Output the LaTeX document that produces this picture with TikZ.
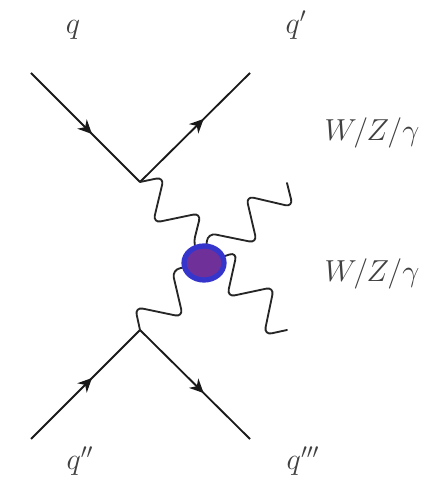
\documentclass[tikz,border=0pt]{standalone}
\usepackage{amsmath,amssymb}
\usetikzlibrary{arrows.meta,decorations.markings,shapes.geometric}
\definecolor{blobline}{HTML}{3535CC}
\definecolor{blobfill}{HTML}{70309A}

\begin{document}
\begin{tikzpicture}[x=0.02cm,y=0.02cm]
\tikzset{quark/.style={line width=1.05pt,draw=black!90,postaction={decorate},
    decoration={markings,mark=at position #1 with {\arrow{Stealth[length=8pt,width=7.5pt,inset=2.5pt]}}}},
  boson/.style={line width=1.05pt,draw=black!85,line cap=round,rounded corners=4.5pt},
  label/.style={font=\LARGE,text=black!75,inner sep=0pt},
  blobstyle/.style={ellipse,draw=blobline,line width=3pt,fill=blobfill,
    minimum width=0.8cm,minimum height=0.68cm,inner sep=0pt}}
\useasboundingbox (0,0) rectangle (426,479);
% vertices and free ends
\coordinate (vtop) at (140,297);
\coordinate (vbot) at (140,149);
\coordinate (core) at (204,216);
\coordinate (qa) at (31,406);
\coordinate (qb) at (250,406);
\coordinate (qc) at (31,40);
\coordinate (qd) at (250,40);
\coordinate (vup) at (287,296);
\coordinate (vdown) at (287,149);
% quark lines
\draw[quark=0.56] (qa) -- (vtop);
\draw[quark=0.58] (vtop) -- (qb);
\draw[quark=0.56] (qc) -- (vbot);
\draw[quark=0.58] (vbot) -- (qd);
% bosons
\draw[boson] (vtop) -- (164,302) -- (153,256) -- (201,266) -- (193,234) -- (core);
\draw[boson] (vbot) -- (135,172) -- (183,162) -- (172,209) -- (core);
\draw[boson] (core) -- (208,246) -- (257,236) -- (246,283) -- (293,272) -- (vup);
\draw[boson] (core) -- (237,227) -- (227,182) -- (274,192) -- (264,144) -- (vdown);
\node[blobstyle] (blob) at (core) {};
% labels
\node[label] (lq) at (73,449) {$q$};
\node[label] (lqp) at (296,454) {$q'$};
\node[label] (lqpp) at (80,18) {$q''$};
\node[label] (lqppp) at (303,18) {$q'''$};
\node[label] (lup) at (372,346) {$W/Z/\gamma$};
\node[label] (ldown) at (372,205) {$W/Z/\gamma$};
\end{tikzpicture}
\end{document}
